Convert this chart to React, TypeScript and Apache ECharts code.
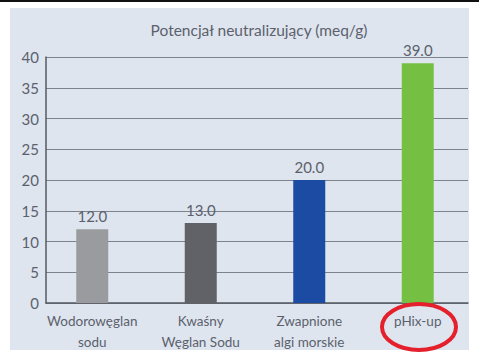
import React, { useEffect, useRef } from "react";
import * as echarts from "echarts";

const categories = ["Wodorowęglan\nsodu", "Kwaśny\nWęglan Sodu", "Zwapnione\nalgi morskie", "pHix-up"];
const values = [12.0, 13.0, 20.0, 39.0];
const barColors = ["#9a9b9f", "#616267", "#1b4ba3", "#75c043"];
const titleText = "Potencjał neutralizujący (meq/g)";

const FONT = "Lato, 'Open Sans', sans-serif";
const TXT = "#5b616c";

export default function App() {
  const ref = useRef<HTMLDivElement>(null);
  useEffect(() => {
    const chart = echarts.init(ref.current!, null, { renderer: "svg" });
    chart.setOption({
      animation: false,
      backgroundColor: "#ffffff",
      graphic: [
        { type: "rect", z: -10, shape: { x: 0, y: 0, width: 479, height: 2 }, style: { fill: "#111" } },
        { type: "rect", z: -10, shape: { x: 10, y: 8, width: 459, height: 342 }, style: { fill: "#dfe5ef" } },
        {
          type: "text",
          x: 259,
          y: 30,
          style: { text: titleText, align: "center", verticalAlign: "middle", font: `15.5px ${FONT}`, fill: TXT },
        },
        {
          type: "ellipse",
          z: 100,
          shape: { cx: 419, cy: 327, rx: 37, ry: 23 },
          style: { fill: "none", stroke: "#e3202b", lineWidth: 4 },
        },
      ],
      grid: [
        { left: 46, right: 11, top: 57, bottom: 55 },
        { left: 38, right: 7, top: 57, bottom: 55 },
      ],
      xAxis: [
        {
          type: "category",
          gridIndex: 0,
          data: categories,
          axisLine: { show: true, lineStyle: { color: "#555a62", width: 1.5 } },
          axisTick: { show: false },
          axisLabel: { show: false },
        },
        {
          type: "category",
          gridIndex: 1,
          data: categories,
          axisLine: { show: false },
          axisTick: { show: false },
          axisLabel: { interval: 0, margin: 7, fontSize: 13.5, lineHeight: 21, color: TXT, fontFamily: FONT },
        },
      ],
      yAxis: [
        {
          type: "value",
          gridIndex: 0,
          min: 0,
          max: 40,
          interval: 5,
          axisLine: { show: true, lineStyle: { color: "#555a62", width: 1.5 } },
          axisTick: { show: false },
          axisLabel: { margin: 7, fontSize: 15, color: TXT, fontFamily: FONT },
          splitLine: { lineStyle: { color: "#7d838d", width: 1 } },
        },
        {
          type: "value",
          gridIndex: 1,
          min: 0,
          max: 40,
          interval: 5,
          show: false,
          splitLine: { show: false },
        },
      ],
      series: [
        {
          type: "bar",
          xAxisIndex: 1,
          yAxisIndex: 1,
          barWidth: 32,
          data: values.map((v, i) => ({ value: v, itemStyle: { color: barColors[i] } })),
          label: {
            show: true,
            position: "top",
            distance: 6,
            formatter: (p: any) => Number(p.value).toFixed(1),
            fontSize: 15,
            color: TXT,
            fontFamily: FONT,
          },
        },
      ],
    });
    return () => chart.dispose();
  }, []);
  return (
    <div
      ref={ref}
      style={{ position: "fixed", left: 0, top: 0, width: 479, height: 358 }}
    />
  );
}
